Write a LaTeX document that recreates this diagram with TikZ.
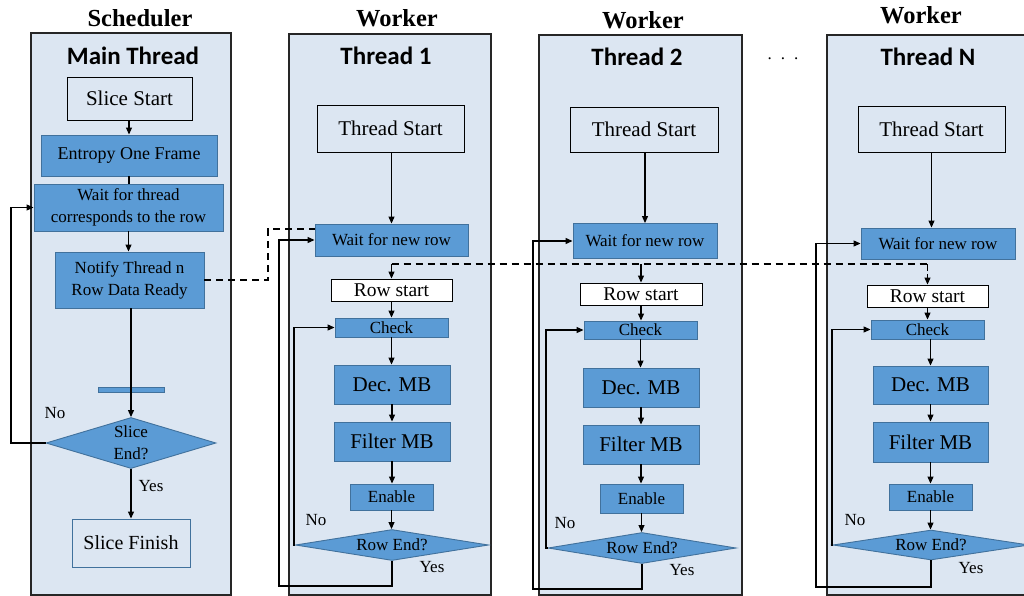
\documentclass[tikz,border=0pt]{standalone}
\usepackage{fontspec}
\setmainfont{Liberation Serif}
\newfontfamily\headsans{Carlito}
\usetikzlibrary{arrows.meta,shapes.geometric,calc}
\definecolor{colbg}{HTML}{DCE6F2}
\definecolor{boxblue}{HTML}{5B9BD5}
\definecolor{boxedge}{HTML}{41719C}
\newcommand\setfs[2]{\fontsize{#1pt}{#2pt}\selectfont}
\begin{document}
\begin{tikzpicture}[x=1pt,y=-1pt,
  colrect/.style={draw=black!85,fill=colbg,line width=1.2pt},
  basebox/.style={rectangle,inner sep=0pt,line width=0.9pt},
  bluebox/.style={basebox,fill=boxblue,draw=boxedge},
  whitebox/.style={basebox,fill=white,draw=black},
  bgbox/.style={basebox,fill=colbg,draw=black},
  finbox/.style={basebox,fill=colbg,draw=boxedge},
  decision/.style={diamond,inner sep=0pt,fill=boxblue,draw=boxedge,line width=0.9pt},
  lbl/.style={inner sep=0pt,align=center},
  heading/.style={inner sep=0pt,font=\setfs{24.5}{27}\bfseries},
  subhead/.style={inner sep=0pt,font=\headsans\setfs{25}{28}\bfseries},
  tbig/.style={font=\setfs{21}{24}},
  tmid/.style={font=\setfs{19.5}{22}},
  tsml/.style={font=\setfs{17}{22}},
  arr/.style={line width=1.1pt,-{Triangle[length=7pt,width=6pt]}},
  conn/.style={line width=1.1pt},
  dashline/.style={line width=1.6pt,dash pattern=on 7pt off 5pt},
]
\useasboundingbox (0,0) rectangle (1024,596);

% ---------- column frames ----------
\draw[colrect] (31,33) rectangle (231,595);
\draw[colrect] (289,34) rectangle (491,595);
\draw[colrect] (539,35) rectangle (742,595);
\draw[colrect] (827,35) rectangle (1032,595);

% ---------- headings ----------
\node[heading] (hs) at (140,18) {Scheduler};
\node[heading] (hw1) at (397,18) {Worker};
\node[heading] (hw2) at (643,20) {Worker};
\node[heading] (hw3) at (921,15) {Worker};
\node[subhead] (hmain) at (133,56) {Main Thread};
\node[subhead] (ht1) at (386,56) {Thread 1};
\node[subhead] (ht2) at (637,57) {Thread 2};
\node[subhead] (ht3) at (928,57) {Thread N};
\node[inner sep=0pt,font=\setfs{17}{20}] (dots) at (783,59) {.\hspace{9pt}.\hspace{9pt}.};

% ---------- scheduler / main thread ----------
\node[bgbox,tbig,minimum width=125pt,minimum height=43pt] (sstart) at (129.5,98.5) {Slice Start};
\node[bluebox,font=\setfs{18}{22},minimum width=176pt,minimum height=41pt] (entropy) at (129,155.5) {Entropy One Frame};
\node[bluebox,tsml,align=center,minimum width=189pt,minimum height=47pt] (waitth) at (128.5,207.5) {Wait for thread\\corresponds to the row};
\node[bluebox,tsml,align=center,minimum width=149pt,minimum height=56pt] (notify) at (129.5,280) {Notify Thread n\\Row Data Ready};
\node[bluebox,minimum width=66pt,minimum height=5pt] (bar) at (131,389.5) {};
\node[decision,minimum width=170pt,minimum height=51pt] (send) at (131,443) {};
\node[lbl,tsml] (sendt) at (send) {Slice\\End?};
\node[finbox,font=\setfs{20}{24},minimum width=118pt,minimum height=48pt] (sfinish) at (131,543) {Slice Finish};
\node[lbl,tsml] (sno) at (55,413) {No};
\node[lbl,tsml] (syes) at (151,486) {Yes};

\draw[arr] (sstart.south -| entropy.north) -- (entropy.north);
\draw[conn] (entropy.south) -- (entropy.south |- waitth.north);
\draw[arr] (waitth.south) -- (waitth.south |- notify.north);
\draw[arr] (send.north |- notify.south) -- (send.north);
\draw[arr] (send.south) -- (sfinish.north);
\coordinate (sloop) at (11,443);
\draw[arr] (send.west) -- (sloop) |- (waitth.west);

% ---------- worker: thread 1 ----------
\node[bgbox,tbig,minimum width=147pt,minimum height=47pt] (tsA) at (390.5,128.5) {Thread Start};
\node[bluebox,tsml,minimum width=153pt,minimum height=32pt] (waitA) at (391.5,240) {Wait for new row};
\node[whitebox,tmid,minimum width=121pt,minimum height=22pt] (rsA) at (391.5,290) {Row start};
\node[bluebox,tsml,minimum width=113pt,minimum height=19pt] (chkA) at (391.5,327.5) {Check};
\node[bluebox,tbig,minimum width=116pt,minimum height=39pt] (decA) at (392,384.5) {Dec. MB};
\node[bluebox,tbig,minimum width=116pt,minimum height=39pt] (filA) at (392,441.5) {Filter MB};
\node[bluebox,tsml,minimum width=83pt,minimum height=26pt] (enA) at (391.5,497) {Enable};
\node[decision,minimum width=193pt,minimum height=31pt] (reA) at (392,545) {};
\node[lbl,tsml] (reAt) at (reA) {Row End?};
\node[lbl,tsml] (noA) at (316,520) {No};
\node[lbl,tsml] (yesA) at (432,567) {Yes};

\draw[arr] (tsA.south -| waitA.north) -- (waitA.north);
\draw[arr] (rsA.south) -- (chkA.north);
\draw[arr] (chkA.south) -- (chkA.south |- decA.north);
\draw[arr] (decA.south) -- (filA.north);
\draw[arr] (filA.south) -- (filA.south |- enA.north);
\draw[arr] (enA.south) -- (enA.south |- reA.north);
\coordinate (noAc) at (294,545);
\draw[arr] (reA.west) -- (noAc) |- (chkA.west);
\coordinate (yesAc) at (279,586);
\draw[arr] (reA.south) |- (yesAc) |- (waitA.west);

% ---------- worker: thread 2 ----------
\node[bgbox,tbig,minimum width=148pt,minimum height=45pt] (tsB) at (644,129.5) {Thread Start};
\node[bluebox,tsml,minimum width=144pt,minimum height=35pt] (waitB) at (645,241) {Wait for new row};
\node[whitebox,tmid,minimum width=122pt,minimum height=22pt] (rsB) at (641,294) {Row start};
\node[bluebox,tsml,minimum width=113pt,minimum height=18pt] (chkB) at (640.5,330) {Check};
\node[bluebox,tbig,minimum width=116pt,minimum height=39pt] (decB) at (641,387.5) {Dec. MB};
\node[bluebox,tbig,minimum width=116pt,minimum height=39pt] (filB) at (641,444.5) {Filter MB};
\node[bluebox,tsml,minimum width=83pt,minimum height=29pt] (enB) at (641.5,498.5) {Enable};
\node[decision,minimum width=188pt,minimum height=31pt] (reB) at (642,548) {};
\node[lbl,tsml] (reBt) at (reB) {Row End?};
\node[lbl,tsml] (noB) at (565,523) {No};
\node[lbl,tsml] (yesB) at (682,570) {Yes};

\draw[arr] (tsB.south -| waitB.north) -- (waitB.north);
\draw[arr] (rsB.south) -- (rsB.south |- chkB.north);
\draw[arr] (chkB.south) -- (chkB.south |- decB.north);
\draw[arr] (decB.south) -- (filB.north);
\draw[arr] (filB.south) -- (filB.south |- enB.north);
\draw[arr] (enB.south) -- (enB.south |- reB.north);
\coordinate (noBc) at (546,548);
\draw[arr] (reB.west) -- (noBc) |- (chkB.west);
\coordinate (yesBc) at (533,589);
\draw[arr] (reB.south) |- (yesBc) |- (waitB.west);

% ---------- worker: thread N ----------
\node[bgbox,tbig,minimum width=147pt,minimum height=46pt] (tsC) at (931.5,129) {Thread Start};
\node[bluebox,tsml,minimum width=154pt,minimum height=31pt] (waitC) at (938,243.5) {Wait for new row};
\node[whitebox,tmid,minimum width=121pt,minimum height=22pt] (rsC) at (927.5,296) {Row start};
\node[bluebox,tsml,minimum width=113pt,minimum height=19pt] (chkC) at (927.5,329.5) {Check};
\node[bluebox,tbig,minimum width=115pt,minimum height=38pt] (decC) at (930.5,385) {Dec. MB};
\node[bluebox,tbig,minimum width=115pt,minimum height=40pt] (filC) at (930.5,442) {Filter MB};
\node[bluebox,tsml,minimum width=83pt,minimum height=26pt] (enC) at (930.5,497) {Enable};
\node[decision,minimum width=196pt,minimum height=30pt] (reC) at (931,545) {};
\node[lbl,tsml] (reCt) at (reC) {Row End?};
\node[lbl,tsml] (noC) at (855,520) {No};
\node[lbl,tsml] (yesC) at (971,568) {Yes};

\draw[arr] (tsC.south) -- (tsC.south |- waitC.north);
\draw[arr] (rsC.south) -- (chkC.north);
\draw[arr] (chkC.south -| decC.north) -- (decC.north);
\draw[arr] (decC.south) -- (filC.north);
\draw[arr] (filC.south) -- (enC.north);
\draw[arr] (enC.south) -- (enC.south |- reC.north);
\coordinate (noCc) at (832,545);
\draw[arr] (reC.west) -- (noCc) |- (chkC.west);
\coordinate (yesCc) at (816,587);
\draw[arr] (reC.south) |- (yesCc) |- (waitC.west);

% ---------- row-ready signalling ----------
\coordinate (ntk) at (268,229);
\draw[dashline] (notify.east) -| (ntk) -- (ntk -| waitA.west);
\coordinate (busA) at (391.5,264);
\coordinate (busB) at (641,264);
\coordinate (busC) at (927.5,264);
\draw[dashline] (busA) -- (busC);
\draw[arr] (busA) -- (rsA.north);
\draw[arr] (busB) -- (rsB.north);
\draw[arr,dash pattern=on 7pt off 3pt] (busC) -- (rsC.north);
\end{tikzpicture}
\end{document}
